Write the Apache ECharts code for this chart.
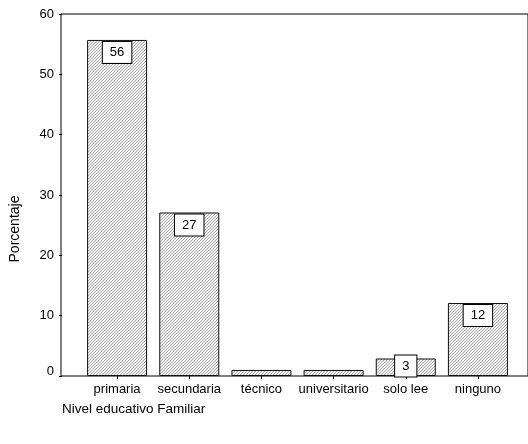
<!DOCTYPE html>
<html><head><meta charset="utf-8">
<script src="https://cdn.jsdelivr.net/npm/echarts@6/dist/echarts.min.js"></script>
<style>html,body{margin:0;padding:0;background:#fff}#c{width:528px;height:444px}</style>
</head><body><div id="c"></div>
<script>
const categories = ['primaria', 'secundaria', 'técnico', 'universitario', 'solo lee', 'ninguno'];
const values = [55.7, 27.1, 1.0, 1.0, 2.9, 12.1];
const showLabel = [true, true, false, false, true, true];
const yTicks = { min: 0, max: 60, interval: 10 };
const xTitle = 'Nivel educativo Familiar';
const yTitle = 'Porcentaje';

const pc = document.createElement('canvas');
pc.width = 3; pc.height = 3;
const g = pc.getContext('2d');
g.fillStyle = '#f2f2f2'; g.fillRect(0, 0, 3, 3);
g.fillStyle = '#acacac';
for (let i = 0; i < 3; i++) g.fillRect(i, 2 - i, 1, 1);

const font = 'Liberation Sans, Arial, sans-serif';
const chart = echarts.init(document.getElementById('c'), null, { renderer: 'canvas' });
chart.setOption({
  animation: false,
  textStyle: { fontFamily: font },
  title: { text: xTitle, left: 62, top: 402, padding: 0, textStyle: { fontSize: 13.5, fontWeight: 'normal', color: '#000', fontFamily: font } },
  grid: [
    { left: 61, right: -2, top: 14, bottom: 68, show: true, borderColor: '#000', borderWidth: 1, backgroundColor: 'transparent' },
    { left: 80, right: 14, top: 14, bottom: 68 }
  ],
  xAxis: [
    { gridIndex: 0, type: 'value', show: false, min: 0, max: 1 },
    { gridIndex: 1, type: 'category', data: categories, boundaryGap: true,
      axisLine: { show: false },
      axisTick: { show: true, alignWithLabel: true, length: 3, lineStyle: { color: '#000' } },
      axisLabel: { color: '#000', fontSize: 13, margin: 7, fontFamily: font, interval: 0 } }
  ],
  yAxis: [
    { gridIndex: 0, type: 'value', show: false, min: 0, max: 1 },
    { gridIndex: 1, type: 'value', min: yTicks.min, max: yTicks.max, interval: yTicks.interval, offset: 19,
      name: yTitle, nameLocation: 'middle', nameGap: 40,
      nameTextStyle: { fontSize: 14, color: '#000', fontFamily: font, padding: [0, 68, 0, 0] },
      axisLine: { show: false },
      axisTick: { show: true, length: 3, lineStyle: { color: '#000' } },
      splitLine: { show: false },
      axisLabel: { color: '#000', fontSize: 13, margin: 8, fontFamily: font,
        formatter: v => v === 0 ? '{z|0}' : String(v),
        rich: { z: { fontSize: 13, color: '#000', fontFamily: font, padding: [0, 0, 10, 0] } } } }
  ],
  series: [{
    type: 'bar', xAxisIndex: 1, yAxisIndex: 1, barWidth: 60,
    itemStyle: { color: { image: pc, repeat: 'repeat' }, borderColor: '#111', borderWidth: 1 },
    label: { show: true, position: 'insideTop', distance: 2, color: '#000', fontSize: 13, fontFamily: font,
      backgroundColor: '#fff', borderColor: '#000', borderWidth: 1, padding: [4, 7, 4, 7],
      formatter: p => String(Math.round(p.value)) },
    data: values.map((v, i) => ({
      value: v,
      label: showLabel[i] ? (v < 5 ? { show: true, offset: [0, -5] } : { show: true }) : { show: false }
    }))
  }]
});
</script></body></html>
